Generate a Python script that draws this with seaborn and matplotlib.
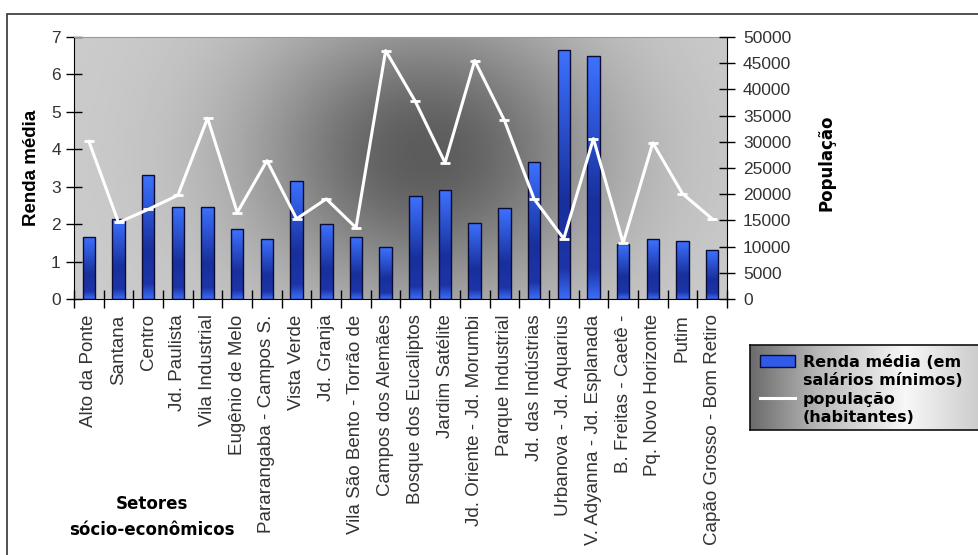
import numpy as np
import seaborn as sns
import matplotlib.pyplot as plt
from matplotlib.colors import LinearSegmentedColormap
from matplotlib.lines import Line2D
from matplotlib.patches import Patch, Rectangle

# dados por setor
setores = ["Alto da Ponte", "Santana", "Centro", "Jd. Paulista", "Vila Industrial",
           "Eugênio de Melo", "Pararangaba - Campos S.", "Vista Verde", "Jd. Granja",
           "Vila São Bento - Torrão de", "Campos dos Alemães", "Bosque dos Eucaliptos",
           "Jardim Satélite", "Jd. Oriente - Jd. Morumbi", "Parque Industrial",
           "Jd. das Indústrias", "Urbanova - Jd. Aquarius", "V. Adyanna - Jd. Esplanada",
           "B. Freitas - Caetê -", "Pq. Novo Horizonte", "Putim", "Capão Grosso - Bom Retiro"]
renda = [1.66, 2.14, 3.30, 2.47, 2.47, 1.87, 1.59, 3.16, 2.01, 1.66, 1.38,
         2.74, 2.91, 2.04, 2.43, 3.65, 6.66, 6.49, 1.47, 1.59, 1.55, 1.30]
populacao = [30100, 14600, 17100, 19800, 34500, 16500, 26400, 15300, 19100, 13600, 47400,
             37700, 26000, 45500, 34100, 19100, 11500, 30600, 10700, 29800, 20100, 15300]

renda_ticks = list(range(0, 8))
pop_ticks = list(range(0, 50001, 5000))
legenda = ["Renda média (em", "salários mínimos)", "população", "(habitantes)"]

n = len(setores)
TAHOMA = "DejaVu Sans"
ARIAL = "Liberation Sans"

fig = plt.figure(figsize=(9.79, 5.55), dpi=100)
ax = fig.add_axes([74 / 979, 1 - 299 / 555, (727 - 74) / 979, (299 - 37) / 555])

# fundo em degradê da área de plotagem
U, V = np.meshgrid(np.linspace(0, 1, 300), np.linspace(0, 1, 200))
fundo = 0.80 - 0.44 * np.exp(-(((U - 0.54) / 0.27) ** 2 + ((V - 0.55) / 0.55) ** 2))
ax.imshow(fundo, extent=[-0.5, n - 0.5, 0, 7], cmap="gray", vmin=0, vmax=1,
          aspect="auto", origin="lower", zorder=0)

sns.barplot(x=setores, y=renda, ax=ax, width=0.42, color="#2f5be8",
            edgecolor="#0b0b35", linewidth=1.0, zorder=2)

# degradê azul nas barras
bar_cmap = LinearSegmentedColormap.from_list(
    "barra", [(0, "#3a6cf6"), (0.12, "#1c34a8"), (0.4, "#18309c"), (1, "#3d72ff")])
for p in list(ax.patches):
    x0, w, h = p.get_x(), p.get_width(), p.get_height()
    im = ax.imshow(np.linspace(0, 1, 128).reshape(-1, 1), extent=[x0, x0 + w, 0, h],
                   origin="lower", cmap=bar_cmap, vmin=0, vmax=1, aspect="auto", zorder=2.1)
    im.set_clip_path(p)
    p.set_facecolor("none")
    p.set_zorder(2.2)

ax2 = ax.twinx()
sns.lineplot(x=np.arange(n), y=populacao, ax=ax2, color="white", linewidth=2.2,
             marker="_", markersize=7, markeredgewidth=2, markeredgecolor="white")

ax.set_xlim(-0.5, n - 0.5)
ax.set_ylim(0, 7)
ax2.set_ylim(0, 50000)

ax.set_yticks(renda_ticks)
ax2.set_yticks(pop_ticks)
ax.set_yticklabels([str(t) for t in renda_ticks], fontsize=12.5, family=ARIAL, color="#333")
ax2.set_yticklabels([str(t) for t in pop_ticks], fontsize=12.5, family=ARIAL, color="#333")
ax.tick_params(axis="y", direction="inout", length=11, width=1, pad=4)
ax2.tick_params(axis="y", direction="inout", length=11, width=1, pad=6)

ax.set_xticks(range(n))
ax.set_xticklabels(setores, rotation=90, fontsize=13.5, family=ARIAL, color="#333",
                   ha="center", va="top")
ax.tick_params(axis="x", which="major", length=0, pad=11)
ax.set_xticks(np.arange(-0.5, n, 1), minor=True)
ax.tick_params(axis="x", which="minor", direction="inout", length=13, width=1)

ax.set_xlabel("")
ax.set_ylabel("Renda média", family=ARIAL, fontweight="bold", fontsize=13.5, labelpad=8)
ax2.set_ylabel("População", family=TAHOMA, fontweight="bold", fontsize=12, labelpad=20)
ax2.yaxis.set_label_coords(1.138, 0.52)

ax.spines["top"].set_color("#999999")
ax.spines["right"].set_visible(False)
for s in ["top", "left", "bottom"]:
    ax2.spines[s].set_visible(False)

fig.text(152 / 979, 1 - 517 / 555, "Setores\nsócio-econômicos", ha="center", va="center",
         family=TAHOMA, fontweight="bold", fontsize=12, linespacing=1.55)

# legenda com fundo em degradê
lax = fig.add_axes([750 / 979, 1 - 430 / 555, 229 / 979, 85 / 555])
xs = np.linspace(0, 1, 300)
perfil = np.interp(xs, [0, 0.3, 0.68, 1], [0.42, 0.72, 0.97, 0.8])
lax.imshow(np.tile(perfil, (40, 1)), extent=[0, 1, 0, 1], cmap="gray", vmin=0, vmax=1,
           aspect="auto", origin="lower")
lax.set_xlim(0, 1)
lax.set_ylim(0, 1)
lax.set_xticks([])
lax.set_yticks([])
for s in lax.spines.values():
    s.set_color("#111")
    s.set_linewidth(1.2)
handles = [Patch(facecolor="#2f5be8", edgecolor="#0b0b35"), Line2D([], [], color="none"),
           Line2D([], [], color="white", lw=2.2), Line2D([], [], color="none")]
lax.legend(handles, legenda, loc="upper left", bbox_to_anchor=(0, 1), frameon=False,
           prop=dict(family=TAHOMA, weight="bold", size=11.5), handlelength=2.2,
           handletextpad=0.5, borderaxespad=0.3, borderpad=0.3, labelspacing=0.22)

# moldura externa
fig.add_artist(Rectangle((7 / 979, -0.1), 1.2, 0.1 + 1 - 14 / 555, transform=fig.transFigure,
                         fill=False, edgecolor="#333", lw=1.2))

fig.savefig("out.png", dpi=100)
